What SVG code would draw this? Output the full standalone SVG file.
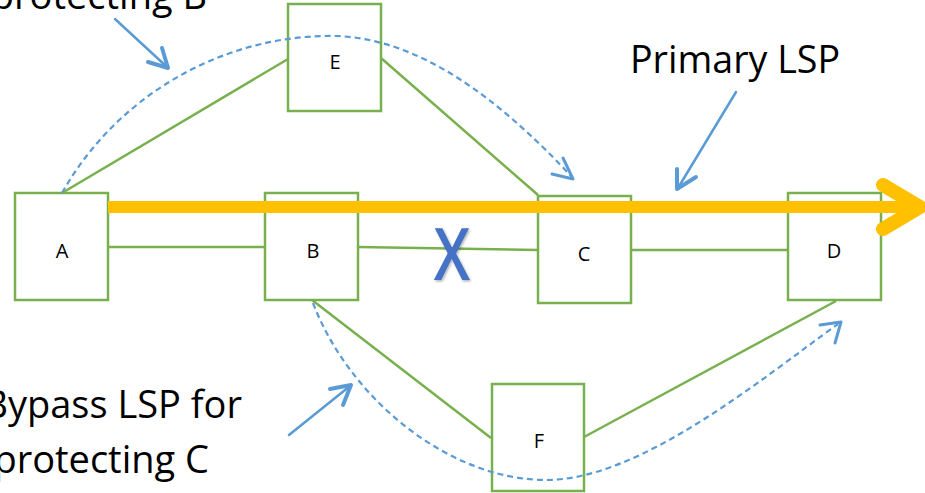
<svg xmlns="http://www.w3.org/2000/svg" width="925" height="493" viewBox="0 0 925 493">
<style>
.box{fill:#fff;stroke:#78B04E;stroke-width:2.5}
.lbl{font-family:"Open Sans","Liberation Sans",sans-serif;font-size:20px;fill:#000;text-anchor:middle}
.big{font-family:"Open Sans","Liberation Sans",sans-serif;font-size:38px;fill:#000}
.link{stroke:#78B04E;stroke-width:2.5;fill:none}
.dash{stroke:#5B9BD5;stroke-width:2.2;fill:none;stroke-dasharray:6 4}
.ptr{stroke:#5B9BD5;stroke-width:2.5;fill:none;stroke-linecap:round}
.head{stroke:#5B9BD5;stroke-width:4;fill:none;stroke-linecap:round;stroke-linejoin:round}
.hd2{stroke:#5B9BD5;stroke-width:3;fill:none;stroke-linecap:round;stroke-linejoin:round}
</style>
<defs>
<filter id="sh" x="-20%" y="-20%" width="150%" height="150%">
<feDropShadow dx="1.5" dy="1.5" stdDeviation="1" flood-color="#000" flood-opacity="0.3"/>
</filter>
</defs>
<rect width="925" height="493" fill="#fff"/>
<g id="links">
<line class="link" x1="108" y1="247" x2="265" y2="247"/>
<line class="link" x1="358" y1="247" x2="538" y2="250"/>
<line class="link" x1="631" y1="250" x2="788" y2="250"/>
<line class="link" x1="62" y1="193" x2="288" y2="59"/>
<line class="link" x1="381" y1="58" x2="538" y2="195"/>
<line class="link" x1="312" y1="300" x2="491" y2="438"/>
<line class="link" x1="584" y1="437" x2="836" y2="301"/>
</g>
<g id="node-A"><rect class="box" x="15" y="193" width="93" height="107"/><text class="lbl" x="62" y="258">A</text></g>
<g id="node-B"><rect class="box" x="265" y="193" width="93" height="107"/><text class="lbl" x="313" y="258">B</text></g>
<g id="node-C"><rect class="box" x="538" y="196" width="93" height="107"/><text class="lbl" x="584" y="261">C</text></g>
<g id="node-D"><rect class="box" x="788" y="193" width="93" height="107"/><text class="lbl" x="834" y="258">D</text></g>
<g id="node-E"><rect class="box" x="288" y="4" width="93" height="107"/><text class="lbl" x="335" y="69">E</text></g>
<g id="node-F"><rect class="box" x="492" y="384" width="92" height="107"/><text class="lbl" x="539" y="448">F</text></g>
<g id="connectors">
<path class="dash" d="M62,193 C120,90 230,34 335,36 C420,38 500,100 571,176"/>
<polyline class="hd2" points="552,174 573,179 563,158"/>
<path class="dash" d="M313,303 C350,400 450,480 546,480 C640,480 760,380 838,324"/>
<polyline class="hd2" points="820,325 841,322 835,343"/>
<line class="ptr" x1="115" y1="19" x2="167" y2="67"/>
<polyline class="head" points="148,62 168,68 162,48"/>
<line class="ptr" x1="736" y1="92" x2="678" y2="188"/>
<polyline class="head" points="677,169 677,189 696,177"/>
<line class="ptr" x1="289" y1="435" x2="350" y2="386"/>
<polyline class="head" points="330,389 351,385 343,405"/>
<line x1="108" y1="207" x2="916" y2="207" stroke="#FFC000" stroke-width="12"/>
<polyline points="883,185 920,207 883,229" stroke="#FFC000" stroke-width="14" fill="none" stroke-linecap="round" stroke-linejoin="round"/>
</g>
<text transform="translate(452,280) scale(0.8,1)" font-family="'Open Sans','Liberation Sans',sans-serif" font-weight="600" font-size="73" fill="#4472C4" text-anchor="middle" filter="url(#sh)">X</text>
<text class="big" x="630" y="73" textLength="210" lengthAdjust="spacingAndGlyphs">Primary LSP</text>
<text class="big" x="207" y="9" text-anchor="end">protecting B</text>
<text class="big" x="242" y="418" text-anchor="end">Bypass LSP for</text>
<text class="big" x="209" y="473" text-anchor="end">protecting C</text>
</svg>
